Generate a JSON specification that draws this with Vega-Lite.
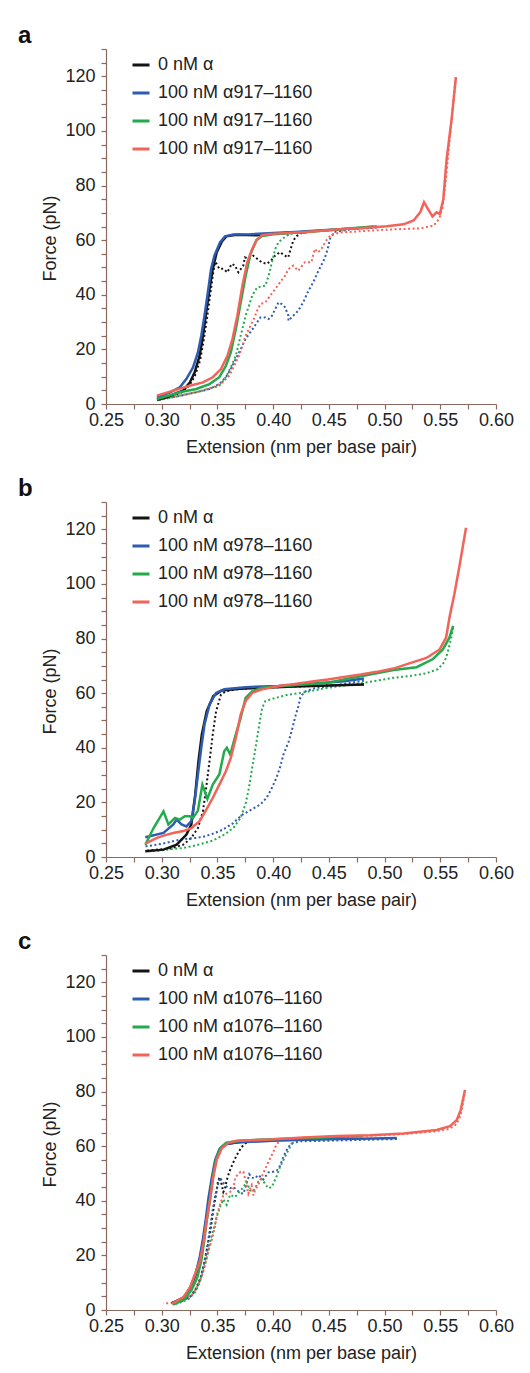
{
  "$schema": "https://vega.github.io/schema/vega-lite/v6.json",
  "padding": {"left": 17, "top": 24, "right": 5, "bottom": 5},
  "background": "white",
  "config": {
    "font": "Liberation Sans",
    "view": {"stroke": null},
    "axis": {"grid": false, "domainColor": "#8a6a60", "tickColor": "#8a6a60", "domainWidth": 1.2, "tickWidth": 1.2, "tickSize": 5, "labelFontSize": 18, "titleFontSize": 18, "titleFontWeight": "normal", "labelColor": "#222222", "titleColor": "#222222", "labelFont": "Liberation Sans", "titleFont": "Liberation Sans", "labelOverlap": false, "labelFlush": false},
    "title": {"fontSize": 24, "fontWeight": "bold", "anchor": "start", "color": "#111111", "baseline": "alphabetic", "offset": 5, "dx": -24, "dy": 13, "font": "Liberation Sans"},
    "legend": {"orient": "none", "legendX": 25, "legendY": 6, "title": null, "symbolType": "stroke", "symbolSize": 289, "symbolStrokeWidth": 3, "symbolDash": [1, 0], "labelFontSize": 18, "labelColor": "#222222", "labelOffset": 7, "rowPadding": 9, "padding": 0, "labelLimit": 400, "labelFont": "Liberation Sans"}
  },
  "resolve": {"scale": {"color": "independent"}},
  "spacing": 21,
  "datasets": {
    "a": [
      {"s":"k","t":"s","x":0.2957,"y":1.5},{"s":"k","t":"s","x":0.305,"y":2.5},{"s":"k","t":"s","x":0.313,"y":4},{"s":"k","t":"s","x":0.3193,"y":4.9},{"s":"k","t":"s","x":0.3252,"y":7.9},{"s":"k","t":"s","x":0.3296,"y":11.6},{"s":"k","t":"s","x":0.334,"y":17.7},{"s":"k","t":"s","x":0.337,"y":25},{"s":"k","t":"s","x":0.3399,"y":33.6},{"s":"k","t":"s","x":0.3429,"y":42.1},{"s":"k","t":"s","x":0.3458,"y":49.4},{"s":"k","t":"s","x":0.3493,"y":55.5},{"s":"k","t":"s","x":0.354,"y":59.5},{"s":"k","t":"s","x":0.358,"y":61.4},{"s":"k","t":"s","x":0.367,"y":62},{"s":"k","t":"s","x":0.385,"y":61.8},{"s":"k","t":"s","x":0.397,"y":62.3},{"s":"k","t":"s","x":0.41,"y":62.6},{"s":"k","t":"s","x":0.43,"y":63},
      {"s":"k","t":"r","x":0.43,"y":63},{"s":"k","t":"r","x":0.425,"y":62.5},{"s":"k","t":"r","x":0.421,"y":61.5},{"s":"k","t":"r","x":0.418,"y":59.8},{"s":"k","t":"r","x":0.4155,"y":56.5},{"s":"k","t":"r","x":0.4136,"y":53.7},{"s":"k","t":"r","x":0.4106,"y":54.3},{"s":"k","t":"r","x":0.4061,"y":55.6},{"s":"k","t":"r","x":0.4017,"y":54.3},{"s":"k","t":"r","x":0.398,"y":52.5},{"s":"k","t":"r","x":0.3942,"y":51.3},{"s":"k","t":"r","x":0.3897,"y":51.9},{"s":"k","t":"r","x":0.3822,"y":54.3},{"s":"k","t":"r","x":0.3777,"y":53.1},{"s":"k","t":"r","x":0.3747,"y":53.7},{"s":"k","t":"r","x":0.3732,"y":50.7},{"s":"k","t":"r","x":0.3688,"y":48.2},{"s":"k","t":"r","x":0.3658,"y":50.7},{"s":"k","t":"r","x":0.3628,"y":51.3},{"s":"k","t":"r","x":0.3589,"y":48.2},{"s":"k","t":"r","x":0.3553,"y":49.5},{"s":"k","t":"r","x":0.3517,"y":49.5},{"s":"k","t":"r","x":0.3493,"y":51.3},{"s":"k","t":"r","x":0.3478,"y":52},{"s":"k","t":"r","x":0.3458,"y":47},{"s":"k","t":"r","x":0.3435,"y":40},{"s":"k","t":"r","x":0.3405,"y":31},{"s":"k","t":"r","x":0.3375,"y":23},{"s":"k","t":"r","x":0.3345,"y":16},{"s":"k","t":"r","x":0.33,"y":10.5},{"s":"k","t":"r","x":0.3252,"y":7},{"s":"k","t":"r","x":0.3193,"y":4.5},{"s":"k","t":"r","x":0.31,"y":3},{"s":"k","t":"r","x":0.298,"y":1.5},
      {"s":"b","t":"s","x":0.2957,"y":2.4},{"s":"b","t":"s","x":0.3075,"y":4.3},{"s":"b","t":"s","x":0.3163,"y":6.1},{"s":"b","t":"s","x":0.3222,"y":9.2},{"s":"b","t":"s","x":0.3281,"y":13.4},{"s":"b","t":"s","x":0.3325,"y":18.9},{"s":"b","t":"s","x":0.3355,"y":25},{"s":"b","t":"s","x":0.3384,"y":32.3},{"s":"b","t":"s","x":0.3414,"y":40.9},{"s":"b","t":"s","x":0.3443,"y":49.4},{"s":"b","t":"s","x":0.3473,"y":54.3},{"s":"b","t":"s","x":0.3523,"y":59.2},{"s":"b","t":"s","x":0.3568,"y":61.4},{"s":"b","t":"s","x":0.3643,"y":62.1},{"s":"b","t":"s","x":0.38,"y":62.2},{"s":"b","t":"s","x":0.4,"y":62.6},{"s":"b","t":"s","x":0.42,"y":63},{"s":"b","t":"s","x":0.44,"y":63.5},{"s":"b","t":"s","x":0.46,"y":64},{"s":"b","t":"s","x":0.48,"y":64.5},{"s":"b","t":"s","x":0.493,"y":65},
      {"s":"b","t":"r","x":0.493,"y":64.6},{"s":"b","t":"r","x":0.47,"y":64},{"s":"b","t":"r","x":0.455,"y":63},{"s":"b","t":"r","x":0.451,"y":60.5},{"s":"b","t":"r","x":0.449,"y":56.8},{"s":"b","t":"r","x":0.446,"y":53.1},{"s":"b","t":"r","x":0.44,"y":48.2},{"s":"b","t":"r","x":0.436,"y":44.6},{"s":"b","t":"r","x":0.431,"y":40.9},{"s":"b","t":"r","x":0.427,"y":37.2},{"s":"b","t":"r","x":0.4225,"y":34.2},{"s":"b","t":"r","x":0.418,"y":32.3},{"s":"b","t":"r","x":0.4137,"y":30.5},{"s":"b","t":"r","x":0.4137,"y":32.3},{"s":"b","t":"r","x":0.4107,"y":35.4},{"s":"b","t":"r","x":0.4078,"y":36.6},{"s":"b","t":"r","x":0.4048,"y":37.2},{"s":"b","t":"r","x":0.4019,"y":34.8},{"s":"b","t":"r","x":0.3989,"y":32.3},{"s":"b","t":"r","x":0.396,"y":31.1},{"s":"b","t":"r","x":0.393,"y":31.7},{"s":"b","t":"r","x":0.3886,"y":31.7},{"s":"b","t":"r","x":0.3856,"y":29.9},{"s":"b","t":"r","x":0.3827,"y":28.1},{"s":"b","t":"r","x":0.3783,"y":25.6},{"s":"b","t":"r","x":0.3753,"y":23.8},{"s":"b","t":"r","x":0.3709,"y":20.1},{"s":"b","t":"r","x":0.3665,"y":16.5},{"s":"b","t":"r","x":0.362,"y":12.8},{"s":"b","t":"r","x":0.3576,"y":9.8},{"s":"b","t":"r","x":0.3517,"y":7.3},{"s":"b","t":"r","x":0.3429,"y":5.5},{"s":"b","t":"r","x":0.331,"y":4.3},{"s":"b","t":"r","x":0.3163,"y":3},{"s":"b","t":"r","x":0.2986,"y":1.8},
      {"s":"g","t":"s","x":0.2957,"y":1.8},{"s":"g","t":"s","x":0.3163,"y":4.3},{"s":"g","t":"s","x":0.331,"y":5.5},{"s":"g","t":"s","x":0.3429,"y":7.3},{"s":"g","t":"s","x":0.3517,"y":9.8},{"s":"g","t":"s","x":0.3576,"y":14},{"s":"g","t":"s","x":0.362,"y":18.9},{"s":"g","t":"s","x":0.3665,"y":27.5},{"s":"g","t":"s","x":0.3709,"y":37.2},{"s":"g","t":"s","x":0.3753,"y":47},{"s":"g","t":"s","x":0.3797,"y":54.9},{"s":"g","t":"s","x":0.385,"y":60},{"s":"g","t":"s","x":0.39,"y":61.5},{"s":"g","t":"s","x":0.4,"y":62.2},{"s":"g","t":"s","x":0.43,"y":63},{"s":"g","t":"s","x":0.46,"y":64},{"s":"g","t":"s","x":0.49,"y":65},
      {"s":"g","t":"r","x":0.49,"y":64.8},{"s":"g","t":"r","x":0.46,"y":63.8},{"s":"g","t":"r","x":0.43,"y":63},{"s":"g","t":"r","x":0.42,"y":62.6},{"s":"g","t":"r","x":0.415,"y":62.3},{"s":"g","t":"r","x":0.409,"y":60.7},{"s":"g","t":"r","x":0.4047,"y":59.2},{"s":"g","t":"r","x":0.4019,"y":56.8},{"s":"g","t":"r","x":0.3989,"y":51.9},{"s":"g","t":"r","x":0.396,"y":47},{"s":"g","t":"r","x":0.393,"y":43.3},{"s":"g","t":"r","x":0.3856,"y":42.7},{"s":"g","t":"r","x":0.3812,"y":39.7},{"s":"g","t":"r","x":0.3783,"y":36},{"s":"g","t":"r","x":0.3753,"y":32.3},{"s":"g","t":"r","x":0.3724,"y":27.5},{"s":"g","t":"r","x":0.3694,"y":22.6},{"s":"g","t":"r","x":0.3665,"y":17.7},{"s":"g","t":"r","x":0.362,"y":13.4},{"s":"g","t":"r","x":0.3576,"y":9.8},{"s":"g","t":"r","x":0.3517,"y":6.7},{"s":"g","t":"r","x":0.337,"y":4.9},{"s":"g","t":"r","x":0.3163,"y":3},{"s":"g","t":"r","x":0.2957,"y":1.3},
      {"s":"r","t":"s","x":0.2957,"y":3},{"s":"r","t":"s","x":0.3104,"y":4.9},{"s":"r","t":"s","x":0.3251,"y":6.7},{"s":"r","t":"s","x":0.337,"y":7.9},{"s":"r","t":"s","x":0.3458,"y":9.8},{"s":"r","t":"s","x":0.3532,"y":12.8},{"s":"r","t":"s","x":0.3591,"y":17.7},{"s":"r","t":"s","x":0.3635,"y":23.8},{"s":"r","t":"s","x":0.3679,"y":32.3},{"s":"r","t":"s","x":0.3724,"y":43.3},{"s":"r","t":"s","x":0.3768,"y":51.9},{"s":"r","t":"s","x":0.3812,"y":56.8},{"s":"r","t":"s","x":0.385,"y":60},{"s":"r","t":"s","x":0.3897,"y":61.7},{"s":"r","t":"s","x":0.397,"y":62.3},{"s":"r","t":"s","x":0.427,"y":62.9},{"s":"r","t":"s","x":0.457,"y":63.9},{"s":"r","t":"s","x":0.487,"y":64.6},{"s":"r","t":"s","x":0.502,"y":65.1},{"s":"r","t":"s","x":0.517,"y":65.8},{"s":"r","t":"s","x":0.526,"y":67.2},{"s":"r","t":"s","x":0.532,"y":70.2},{"s":"r","t":"s","x":0.5354,"y":73.9},{"s":"r","t":"s","x":0.539,"y":71.4},{"s":"r","t":"s","x":0.543,"y":68.7},{"s":"r","t":"s","x":0.5467,"y":70.2},{"s":"r","t":"s","x":0.5496,"y":69.6},{"s":"r","t":"s","x":0.5527,"y":75},{"s":"r","t":"s","x":0.5557,"y":89.7},{"s":"r","t":"s","x":0.5602,"y":104.4},{"s":"r","t":"s","x":0.564,"y":119.7},
      {"s":"r","t":"r","x":0.564,"y":119.7},{"s":"r","t":"r","x":0.5615,"y":110},{"s":"r","t":"r","x":0.558,"y":95},{"s":"r","t":"r","x":0.555,"y":82},{"s":"r","t":"r","x":0.552,"y":72},{"s":"r","t":"r","x":0.549,"y":67.8},{"s":"r","t":"r","x":0.544,"y":65.3},{"s":"r","t":"r","x":0.532,"y":64.3},{"s":"r","t":"r","x":0.517,"y":64.1},{"s":"r","t":"r","x":0.5,"y":63.8},{"s":"r","t":"r","x":0.48,"y":63.3},{"s":"r","t":"r","x":0.46,"y":62.8},{"s":"r","t":"r","x":0.452,"y":62},{"s":"r","t":"r","x":0.447,"y":59.5},{"s":"r","t":"r","x":0.443,"y":56.5},{"s":"r","t":"r","x":0.44,"y":55.5},{"s":"r","t":"r","x":0.4375,"y":56.8},{"s":"r","t":"r","x":0.4343,"y":51.9},{"s":"r","t":"r","x":0.4284,"y":51.9},{"s":"r","t":"r","x":0.4225,"y":48.8},{"s":"r","t":"r","x":0.418,"y":50.7},{"s":"r","t":"r","x":0.4137,"y":49.4},{"s":"r","t":"r","x":0.4107,"y":47},{"s":"r","t":"r","x":0.4063,"y":44.6},{"s":"r","t":"r","x":0.4019,"y":42.1},{"s":"r","t":"r","x":0.3974,"y":39.7},{"s":"r","t":"r","x":0.393,"y":37.2},{"s":"r","t":"r","x":0.3886,"y":36.6},{"s":"r","t":"r","x":0.3856,"y":34.2},{"s":"r","t":"r","x":0.3827,"y":31.1},{"s":"r","t":"r","x":0.3797,"y":28.7},{"s":"r","t":"r","x":0.3753,"y":25},{"s":"r","t":"r","x":0.3724,"y":21.3},{"s":"r","t":"r","x":0.3694,"y":17.7},{"s":"r","t":"r","x":0.365,"y":14},{"s":"r","t":"r","x":0.3606,"y":10.4},{"s":"r","t":"r","x":0.3547,"y":7.9},{"s":"r","t":"r","x":0.3458,"y":6.1},{"s":"r","t":"r","x":0.331,"y":4.3},{"s":"r","t":"r","x":0.2986,"y":1.8}
    ],
    "b": [
      {"s":"k","t":"s","x":0.2853,"y":2.1},{"s":"k","t":"s","x":0.3016,"y":2.7},{"s":"k","t":"s","x":0.3134,"y":4.5},{"s":"k","t":"s","x":0.3222,"y":8.2},{"s":"k","t":"s","x":0.3266,"y":11.9},{"s":"k","t":"s","x":0.3301,"y":22.9},{"s":"k","t":"s","x":0.333,"y":35.1},{"s":"k","t":"s","x":0.336,"y":44.9},{"s":"k","t":"s","x":0.3404,"y":53.4},{"s":"k","t":"s","x":0.3463,"y":58.9},{"s":"k","t":"s","x":0.3537,"y":61},{"s":"k","t":"s","x":0.37,"y":61.6},{"s":"k","t":"s","x":0.3901,"y":62},{"s":"k","t":"s","x":0.4196,"y":62.4},{"s":"k","t":"s","x":0.45,"y":62.8},{"s":"k","t":"s","x":0.4815,"y":63.2},
      {"s":"k","t":"r","x":0.4815,"y":63.2},{"s":"k","t":"r","x":0.45,"y":62.8},{"s":"k","t":"r","x":0.42,"y":62.4},{"s":"k","t":"r","x":0.39,"y":62},{"s":"k","t":"r","x":0.37,"y":61.6},{"s":"k","t":"r","x":0.3576,"y":60.7},{"s":"k","t":"r","x":0.3532,"y":59.5},{"s":"k","t":"r","x":0.3488,"y":53.4},{"s":"k","t":"r","x":0.3458,"y":44.9},{"s":"k","t":"r","x":0.3429,"y":35.1},{"s":"k","t":"r","x":0.3399,"y":25.3},{"s":"k","t":"r","x":0.337,"y":16.7},{"s":"k","t":"r","x":0.3325,"y":10.6},{"s":"k","t":"r","x":0.3266,"y":7},{"s":"k","t":"r","x":0.3193,"y":4.5},{"s":"k","t":"r","x":0.3075,"y":3.1},{"s":"k","t":"r","x":0.2853,"y":2.3},
      {"s":"b","t":"s","x":0.2853,"y":7.2},{"s":"b","t":"s","x":0.3016,"y":8.8},{"s":"b","t":"s","x":0.3104,"y":11.9},{"s":"b","t":"s","x":0.3134,"y":13.7},{"s":"b","t":"s","x":0.3178,"y":11.9},{"s":"b","t":"s","x":0.3222,"y":11.2},{"s":"b","t":"s","x":0.3266,"y":13.1},{"s":"b","t":"s","x":0.3296,"y":20.4},{"s":"b","t":"s","x":0.3325,"y":30.2},{"s":"b","t":"s","x":0.3355,"y":40},{"s":"b","t":"s","x":0.3384,"y":48.5},{"s":"b","t":"s","x":0.3429,"y":55.9},{"s":"b","t":"s","x":0.3488,"y":60.1},{"s":"b","t":"s","x":0.3561,"y":61.4},{"s":"b","t":"s","x":0.3753,"y":62.2},{"s":"b","t":"s","x":0.4048,"y":62.6},{"s":"b","t":"s","x":0.4343,"y":63.4},{"s":"b","t":"s","x":0.4638,"y":64.4},{"s":"b","t":"s","x":0.4815,"y":65.4},
      {"s":"b","t":"r","x":0.4815,"y":64.6},{"s":"b","t":"r","x":0.4638,"y":63.4},{"s":"b","t":"r","x":0.4372,"y":61.8},{"s":"b","t":"r","x":0.428,"y":60.5},{"s":"b","t":"r","x":0.4245,"y":58.5},{"s":"b","t":"r","x":0.4225,"y":55},{"s":"b","t":"r","x":0.4196,"y":51},{"s":"b","t":"r","x":0.4166,"y":46.1},{"s":"b","t":"r","x":0.4137,"y":42},{"s":"b","t":"r","x":0.4092,"y":37.5},{"s":"b","t":"r","x":0.4063,"y":33},{"s":"b","t":"r","x":0.403,"y":29},{"s":"b","t":"r","x":0.3985,"y":25},{"s":"b","t":"r","x":0.394,"y":21.6},{"s":"b","t":"r","x":0.3885,"y":19.2},{"s":"b","t":"r","x":0.3812,"y":17.5},{"s":"b","t":"r","x":0.3724,"y":15.5},{"s":"b","t":"r","x":0.3635,"y":12.2},{"s":"b","t":"r","x":0.3547,"y":10},{"s":"b","t":"r","x":0.3458,"y":8.5},{"s":"b","t":"r","x":0.338,"y":7.5},{"s":"b","t":"r","x":0.331,"y":7},{"s":"b","t":"r","x":0.3163,"y":6.4},{"s":"b","t":"r","x":0.3045,"y":5.2},{"s":"b","t":"r","x":0.2957,"y":4.5},{"s":"b","t":"r","x":0.2853,"y":3.9},
      {"s":"g","t":"s","x":0.2853,"y":4.5},{"s":"g","t":"s","x":0.2927,"y":10.6},{"s":"g","t":"s","x":0.3016,"y":16.7},{"s":"g","t":"s","x":0.306,"y":11.9},{"s":"g","t":"s","x":0.3119,"y":14.3},{"s":"g","t":"s","x":0.3163,"y":13.7},{"s":"g","t":"s","x":0.3207,"y":14.9},{"s":"g","t":"s","x":0.3252,"y":14.9},{"s":"g","t":"s","x":0.3281,"y":14.3},{"s":"g","t":"s","x":0.3325,"y":17},{"s":"g","t":"s","x":0.3365,"y":26.5},{"s":"g","t":"s","x":0.341,"y":21.3},{"s":"g","t":"s","x":0.3458,"y":26.5},{"s":"g","t":"s","x":0.3517,"y":30.2},{"s":"g","t":"s","x":0.3561,"y":38.7},{"s":"g","t":"s","x":0.3585,"y":40},{"s":"g","t":"s","x":0.3615,"y":37.5},{"s":"g","t":"s","x":0.3665,"y":44.9},{"s":"g","t":"s","x":0.3709,"y":51},{"s":"g","t":"s","x":0.3753,"y":58.3},{"s":"g","t":"s","x":0.3812,"y":60.7},{"s":"g","t":"s","x":0.3901,"y":62},{"s":"g","t":"s","x":0.42,"y":63},{"s":"g","t":"s","x":0.449,"y":63.8},{"s":"g","t":"s","x":0.4786,"y":66.2},{"s":"g","t":"s","x":0.508,"y":68.5},{"s":"g","t":"s","x":0.5287,"y":69.5},{"s":"g","t":"s","x":0.5435,"y":72.5},{"s":"g","t":"s","x":0.5523,"y":76},{"s":"g","t":"s","x":0.5582,"y":80.3},{"s":"g","t":"s","x":0.5615,"y":84.6},
      {"s":"g","t":"r","x":0.5615,"y":84},{"s":"g","t":"r","x":0.5597,"y":80},{"s":"g","t":"r","x":0.5567,"y":75},{"s":"g","t":"r","x":0.5538,"y":71.5},{"s":"g","t":"r","x":0.548,"y":68.8},{"s":"g","t":"r","x":0.5376,"y":67.3},{"s":"g","t":"r","x":0.5228,"y":66.3},{"s":"g","t":"r","x":0.508,"y":65.6},{"s":"g","t":"r","x":0.4933,"y":64.6},{"s":"g","t":"r","x":0.4786,"y":63.6},{"s":"g","t":"r","x":0.449,"y":62},{"s":"g","t":"r","x":0.428,"y":60.3},{"s":"g","t":"r","x":0.4121,"y":59.3},{"s":"g","t":"r","x":0.4,"y":58},{"s":"g","t":"r","x":0.393,"y":57.1},{"s":"g","t":"r","x":0.3901,"y":54.6},{"s":"g","t":"r","x":0.3871,"y":47.3},{"s":"g","t":"r","x":0.3842,"y":40},{"s":"g","t":"r","x":0.3812,"y":32.7},{"s":"g","t":"r","x":0.3783,"y":25.3},{"s":"g","t":"r","x":0.3753,"y":19.5},{"s":"g","t":"r","x":0.3709,"y":14.5},{"s":"g","t":"r","x":0.365,"y":11},{"s":"g","t":"r","x":0.3576,"y":8.5},{"s":"g","t":"r","x":0.3458,"y":6},{"s":"g","t":"r","x":0.331,"y":4.3},{"s":"g","t":"r","x":0.3193,"y":3.3},{"s":"g","t":"r","x":0.2957,"y":2.3},{"s":"g","t":"r","x":0.2853,"y":2},
      {"s":"r","t":"s","x":0.2853,"y":4.9},{"s":"r","t":"s","x":0.2957,"y":7},{"s":"r","t":"s","x":0.3045,"y":8.2},{"s":"r","t":"s","x":0.3104,"y":8.8},{"s":"r","t":"s","x":0.3193,"y":9.5},{"s":"r","t":"s","x":0.3266,"y":10.6},{"s":"r","t":"s","x":0.334,"y":13.1},{"s":"r","t":"s","x":0.3399,"y":17.3},{"s":"r","t":"s","x":0.3458,"y":21.6},{"s":"r","t":"s","x":0.3517,"y":26.5},{"s":"r","t":"s","x":0.3576,"y":31.4},{"s":"r","t":"s","x":0.362,"y":36.3},{"s":"r","t":"s","x":0.3665,"y":43.6},{"s":"r","t":"s","x":0.3709,"y":52.2},{"s":"r","t":"s","x":0.3753,"y":57.1},{"s":"r","t":"s","x":0.3812,"y":60.1},{"s":"r","t":"s","x":0.3901,"y":61.4},{"s":"r","t":"s","x":0.4048,"y":62.6},{"s":"r","t":"s","x":0.4196,"y":63.4},{"s":"r","t":"s","x":0.435,"y":64.3},{"s":"r","t":"s","x":0.449,"y":65},{"s":"r","t":"s","x":0.465,"y":66},{"s":"r","t":"s","x":0.4786,"y":66.8},{"s":"r","t":"s","x":0.493,"y":67.8},{"s":"r","t":"s","x":0.508,"y":69},{"s":"r","t":"s","x":0.5228,"y":71},{"s":"r","t":"s","x":0.5376,"y":72.9},{"s":"r","t":"s","x":0.5494,"y":76},{"s":"r","t":"s","x":0.5552,"y":80.3},{"s":"r","t":"s","x":0.5582,"y":87.6},{"s":"r","t":"s","x":0.5626,"y":96.2},{"s":"r","t":"s","x":0.5675,"y":107.2},{"s":"r","t":"s","x":0.5731,"y":120.6}
    ],
    "c": [
      {"s":"k","t":"s","x":0.309,"y":2.5},{"s":"k","t":"s","x":0.32,"y":4.5},{"s":"k","t":"s","x":0.326,"y":8.5},{"s":"k","t":"s","x":0.331,"y":13.5},{"s":"k","t":"s","x":0.3345,"y":19},{"s":"k","t":"s","x":0.3375,"y":26},{"s":"k","t":"s","x":0.34,"y":33},{"s":"k","t":"s","x":0.343,"y":41},{"s":"k","t":"s","x":0.3455,"y":48.5},{"s":"k","t":"s","x":0.3485,"y":55},{"s":"k","t":"s","x":0.3525,"y":59},{"s":"k","t":"s","x":0.358,"y":60.8},{"s":"k","t":"s","x":0.37,"y":61.5},{"s":"k","t":"s","x":0.38,"y":61.8},
      {"s":"k","t":"r","x":0.38,"y":61.8},{"s":"k","t":"r","x":0.375,"y":61},{"s":"k","t":"r","x":0.3717,"y":59.7},{"s":"k","t":"r","x":0.3673,"y":56.7},{"s":"k","t":"r","x":0.3637,"y":53.6},{"s":"k","t":"r","x":0.3607,"y":50.6},{"s":"k","t":"r","x":0.3583,"y":47.5},{"s":"k","t":"r","x":0.3568,"y":44.4},{"s":"k","t":"r","x":0.3553,"y":43.2},{"s":"k","t":"r","x":0.3538,"y":46},{"s":"k","t":"r","x":0.352,"y":48.7},{"s":"k","t":"r","x":0.3505,"y":47},{"s":"k","t":"r","x":0.349,"y":43},{"s":"k","t":"r","x":0.3465,"y":37},{"s":"k","t":"r","x":0.344,"y":30},{"s":"k","t":"r","x":0.341,"y":23},{"s":"k","t":"r","x":0.338,"y":17},{"s":"k","t":"r","x":0.335,"y":12},{"s":"k","t":"r","x":0.331,"y":8},{"s":"k","t":"r","x":0.326,"y":5},{"s":"k","t":"r","x":0.318,"y":3.3},{"s":"k","t":"r","x":0.309,"y":2.2},
      {"s":"b","t":"s","x":0.31,"y":2.5},{"s":"b","t":"s","x":0.32,"y":4.5},{"s":"b","t":"s","x":0.326,"y":8.5},{"s":"b","t":"s","x":0.3305,"y":13.5},{"s":"b","t":"s","x":0.334,"y":19},{"s":"b","t":"s","x":0.337,"y":26},{"s":"b","t":"s","x":0.3395,"y":33},{"s":"b","t":"s","x":0.342,"y":41},{"s":"b","t":"s","x":0.345,"y":48.5},{"s":"b","t":"s","x":0.348,"y":55},{"s":"b","t":"s","x":0.352,"y":59},{"s":"b","t":"s","x":0.358,"y":60.8},{"s":"b","t":"s","x":0.366,"y":61.3},{"s":"b","t":"s","x":0.38,"y":61.6},{"s":"b","t":"s","x":0.4,"y":62},{"s":"b","t":"s","x":0.43,"y":62.3},{"s":"b","t":"s","x":0.46,"y":62.6},{"s":"b","t":"s","x":0.49,"y":62.8},{"s":"b","t":"s","x":0.511,"y":63},
      {"s":"b","t":"r","x":0.511,"y":62.6},{"s":"b","t":"r","x":0.48,"y":62.3},{"s":"b","t":"r","x":0.45,"y":62},{"s":"b","t":"r","x":0.425,"y":61.8},{"s":"b","t":"r","x":0.418,"y":61.2},{"s":"b","t":"r","x":0.4136,"y":59.7},{"s":"b","t":"r","x":0.4092,"y":56.1},{"s":"b","t":"r","x":0.4062,"y":52.8},{"s":"b","t":"r","x":0.4032,"y":51},{"s":"b","t":"r","x":0.3985,"y":50.5},{"s":"b","t":"r","x":0.3957,"y":50.4},{"s":"b","t":"r","x":0.3912,"y":47.8},{"s":"b","t":"r","x":0.3867,"y":49.4},{"s":"b","t":"r","x":0.3835,"y":48.2},{"s":"b","t":"r","x":0.3807,"y":48.5},{"s":"b","t":"r","x":0.3786,"y":49.7},{"s":"b","t":"r","x":0.376,"y":46},{"s":"b","t":"r","x":0.3733,"y":42.6},{"s":"b","t":"r","x":0.3709,"y":42.8},{"s":"b","t":"r","x":0.3673,"y":44},{"s":"b","t":"r","x":0.3643,"y":45},{"s":"b","t":"r","x":0.3613,"y":44.6},{"s":"b","t":"r","x":0.3583,"y":45.2},{"s":"b","t":"r","x":0.3553,"y":46.5},{"s":"b","t":"r","x":0.3523,"y":48.5},{"s":"b","t":"r","x":0.3505,"y":46},{"s":"b","t":"r","x":0.348,"y":42},{"s":"b","t":"r","x":0.3455,"y":36},{"s":"b","t":"r","x":0.343,"y":29},{"s":"b","t":"r","x":0.3405,"y":22},{"s":"b","t":"r","x":0.3375,"y":16},{"s":"b","t":"r","x":0.3345,"y":11},{"s":"b","t":"r","x":0.33,"y":7},{"s":"b","t":"r","x":0.325,"y":4.8},{"s":"b","t":"r","x":0.318,"y":3.3},{"s":"b","t":"r","x":0.31,"y":2.4},
      {"s":"g","t":"s","x":0.31,"y":2},{"s":"g","t":"s","x":0.32,"y":3.8},{"s":"g","t":"s","x":0.327,"y":7.5},{"s":"g","t":"s","x":0.332,"y":12},{"s":"g","t":"s","x":0.3355,"y":18},{"s":"g","t":"s","x":0.338,"y":25},{"s":"g","t":"s","x":0.3405,"y":33},{"s":"g","t":"s","x":0.3435,"y":41},{"s":"g","t":"s","x":0.346,"y":49},{"s":"g","t":"s","x":0.349,"y":55.5},{"s":"g","t":"s","x":0.353,"y":59.5},{"s":"g","t":"s","x":0.358,"y":61.3},{"s":"g","t":"s","x":0.37,"y":62},{"s":"g","t":"s","x":0.4,"y":62.5},{"s":"g","t":"s","x":0.43,"y":63},{"s":"g","t":"s","x":0.46,"y":63.4},{"s":"g","t":"s","x":0.48,"y":63.7},
      {"s":"g","t":"r","x":0.48,"y":63.6},{"s":"g","t":"r","x":0.45,"y":63.2},{"s":"g","t":"r","x":0.425,"y":62.7},{"s":"g","t":"r","x":0.4181,"y":62.2},{"s":"g","t":"r","x":0.4151,"y":59.7},{"s":"g","t":"r","x":0.4106,"y":56.1},{"s":"g","t":"r","x":0.4062,"y":52.4},{"s":"g","t":"r","x":0.4032,"y":49},{"s":"g","t":"r","x":0.3987,"y":45},{"s":"g","t":"r","x":0.3957,"y":44.6},{"s":"g","t":"r","x":0.3942,"y":45.4},{"s":"g","t":"r","x":0.3897,"y":48},{"s":"g","t":"r","x":0.3867,"y":47},{"s":"g","t":"r","x":0.3852,"y":45.7},{"s":"g","t":"r","x":0.3822,"y":43.5},{"s":"g","t":"r","x":0.3792,"y":43.8},{"s":"g","t":"r","x":0.3762,"y":46.9},{"s":"g","t":"r","x":0.3732,"y":45},{"s":"g","t":"r","x":0.3703,"y":43.5},{"s":"g","t":"r","x":0.3658,"y":41.4},{"s":"g","t":"r","x":0.3613,"y":42.2},{"s":"g","t":"r","x":0.3583,"y":38.5},{"s":"g","t":"r","x":0.3553,"y":40.5},{"s":"g","t":"r","x":0.3523,"y":37.7},{"s":"g","t":"r","x":0.3493,"y":34},{"s":"g","t":"r","x":0.3478,"y":31.5},{"s":"g","t":"r","x":0.3457,"y":28.5},{"s":"g","t":"r","x":0.343,"y":24},{"s":"g","t":"r","x":0.3405,"y":19},{"s":"g","t":"r","x":0.3375,"y":14.5},{"s":"g","t":"r","x":0.334,"y":10},{"s":"g","t":"r","x":0.33,"y":6.5},{"s":"g","t":"r","x":0.324,"y":4},{"s":"g","t":"r","x":0.317,"y":2.8},{"s":"g","t":"r","x":0.311,"y":2},
      {"s":"r","t":"s","x":0.3089,"y":2.2},{"s":"r","t":"s","x":0.3194,"y":4.7},{"s":"r","t":"s","x":0.3254,"y":8.3},{"s":"r","t":"s","x":0.3299,"y":13.2},{"s":"r","t":"s","x":0.3344,"y":18.1},{"s":"r","t":"s","x":0.3373,"y":24.2},{"s":"r","t":"s","x":0.3403,"y":32.8},{"s":"r","t":"s","x":0.3433,"y":40.2},{"s":"r","t":"s","x":0.3463,"y":48.7},{"s":"r","t":"s","x":0.3493,"y":54.9},{"s":"r","t":"s","x":0.3538,"y":59.1},{"s":"r","t":"s","x":0.3598,"y":61.2},{"s":"r","t":"s","x":0.3673,"y":62},{"s":"r","t":"s","x":0.3972,"y":62.4},{"s":"r","t":"s","x":0.4271,"y":63.2},{"s":"r","t":"s","x":0.457,"y":63.7},{"s":"r","t":"s","x":0.4869,"y":64},{"s":"r","t":"s","x":0.5168,"y":64.6},{"s":"r","t":"s","x":0.5467,"y":65.9},{"s":"r","t":"s","x":0.5587,"y":67.3},{"s":"r","t":"s","x":0.5647,"y":69.5},{"s":"r","t":"s","x":0.5683,"y":73.2},{"s":"r","t":"s","x":0.5722,"y":80.6},
      {"s":"r","t":"r","x":0.5722,"y":80.6},{"s":"r","t":"r","x":0.5705,"y":76},{"s":"r","t":"r","x":0.568,"y":71},{"s":"r","t":"r","x":0.5645,"y":68},{"s":"r","t":"r","x":0.558,"y":66.3},{"s":"r","t":"r","x":0.545,"y":65.4},{"s":"r","t":"r","x":0.52,"y":64.5},{"s":"r","t":"r","x":0.5,"y":64},{"s":"r","t":"r","x":0.47,"y":63.6},{"s":"r","t":"r","x":0.44,"y":63.1},{"s":"r","t":"r","x":0.42,"y":62.6},{"s":"r","t":"r","x":0.408,"y":62.2},{"s":"r","t":"r","x":0.4032,"y":60.9},{"s":"r","t":"r","x":0.4002,"y":57.9},{"s":"r","t":"r","x":0.3957,"y":54.2},{"s":"r","t":"r","x":0.3927,"y":51.5},{"s":"r","t":"r","x":0.3897,"y":48.7},{"s":"r","t":"r","x":0.3867,"y":46},{"s":"r","t":"r","x":0.3837,"y":43.8},{"s":"r","t":"r","x":0.3822,"y":42},{"s":"r","t":"r","x":0.3807,"y":45.7},{"s":"r","t":"r","x":0.3792,"y":44.4},{"s":"r","t":"r","x":0.3777,"y":42.6},{"s":"r","t":"r","x":0.3755,"y":47},{"s":"r","t":"r","x":0.3733,"y":50.6},{"s":"r","t":"r","x":0.3709,"y":50.6},{"s":"r","t":"r","x":0.3688,"y":50},{"s":"r","t":"r","x":0.3658,"y":48.2},{"s":"r","t":"r","x":0.3643,"y":44.5},{"s":"r","t":"r","x":0.3613,"y":43.2},{"s":"r","t":"r","x":0.3583,"y":42.6},{"s":"r","t":"r","x":0.3553,"y":42},{"s":"r","t":"r","x":0.3523,"y":38.5},{"s":"r","t":"r","x":0.3493,"y":34.5},{"s":"r","t":"r","x":0.3478,"y":30.4},{"s":"r","t":"r","x":0.3448,"y":25.5},{"s":"r","t":"r","x":0.342,"y":22},{"s":"r","t":"r","x":0.339,"y":17},{"s":"r","t":"r","x":0.336,"y":12.5},{"s":"r","t":"r","x":0.332,"y":8.5},{"s":"r","t":"r","x":0.327,"y":5.5},{"s":"r","t":"r","x":0.32,"y":3.8},{"s":"r","t":"r","x":0.31,"y":2.6},{"s":"r","t":"r","x":0.3015,"y":2.4}
    ]
  },
  "vconcat": [
    {
      "title": {"text": "a"},
      "width": 390, "height": 355,
      "data": {"name": "a"},
      "encoding": {
        "x": {"field": "x", "type": "quantitative", "scale": {"domain": [0.25, 0.6], "nice": false, "zero": false}, "axis": {"title": "Extension (nm per base pair)", "values": [0.25,0.275,0.3,0.325,0.35,0.375,0.4,0.425,0.45,0.475,0.5,0.525,0.55,0.575,0.6], "labelExpr": "round(datum.value*1000) % 50 == 0 ? format(datum.value, '.2f') : ''", "labelPadding": 2, "titlePadding": 9}},
        "y": {"field": "y", "type": "quantitative", "scale": {"domain": [0, 130], "nice": false}, "axis": {"title": "Force (pN)", "values": [0,5,10,15,20,25,30,35,40,45,50,55,60,65,70,75,80,85,90,95,100,105,110,115,120,125,130], "labelExpr": "datum.value % 20 == 0 ? datum.label : ''", "labelPadding": 6, "titlePadding": 5, "titleY": 189}},
        "color": {"field": "s", "type": "nominal", "scale": {"domain": ["k","b","g","r"], "range": ["#141414","#2d5cb0","#22aa4c","#f2635a"]}, "legend": {"labelExpr": "datum.value == 'k' ? '0 nM α' : '100 nM α917–1160'"}},
        "order": {"value": null}
      },
      "layer": [
        {"transform": [{"filter": "datum.t == 'r'"}], "mark": {"type": "line", "strokeWidth": 2, "strokeDash": [2, 2.5]}},
        {"transform": [{"filter": "datum.t == 's'"}], "mark": {"type": "line", "strokeWidth": 2.5}}
      ]
    },
    {
      "title": {"text": "b"},
      "width": 390, "height": 355,
      "data": {"name": "b"},
      "encoding": {
        "x": {"field": "x", "type": "quantitative", "scale": {"domain": [0.25, 0.6], "nice": false, "zero": false}, "axis": {"title": "Extension (nm per base pair)", "values": [0.25,0.275,0.3,0.325,0.35,0.375,0.4,0.425,0.45,0.475,0.5,0.525,0.55,0.575,0.6], "labelExpr": "round(datum.value*1000) % 50 == 0 ? format(datum.value, '.2f') : ''", "labelPadding": 2, "titlePadding": 9}},
        "y": {"field": "y", "type": "quantitative", "scale": {"domain": [0, 130], "nice": false}, "axis": {"title": "Force (pN)", "values": [0,5,10,15,20,25,30,35,40,45,50,55,60,65,70,75,80,85,90,95,100,105,110,115,120,125,130], "labelExpr": "datum.value % 20 == 0 ? datum.label : ''", "labelPadding": 6, "titlePadding": 5, "titleY": 189}},
        "color": {"field": "s", "type": "nominal", "scale": {"domain": ["k","b","g","r"], "range": ["#141414","#2d5cb0","#22aa4c","#f2635a"]}, "legend": {"labelExpr": "datum.value == 'k' ? '0 nM α' : '100 nM α978–1160'"}},
        "order": {"value": null}
      },
      "layer": [
        {"transform": [{"filter": "datum.t == 'r'"}], "mark": {"type": "line", "strokeWidth": 2, "strokeDash": [2, 2.5]}},
        {"transform": [{"filter": "datum.t == 's'"}], "mark": {"type": "line", "strokeWidth": 2.5}}
      ]
    },
    {
      "title": {"text": "c"},
      "width": 390, "height": 355,
      "data": {"name": "c"},
      "encoding": {
        "x": {"field": "x", "type": "quantitative", "scale": {"domain": [0.25, 0.6], "nice": false, "zero": false}, "axis": {"title": "Extension (nm per base pair)", "values": [0.25,0.275,0.3,0.325,0.35,0.375,0.4,0.425,0.45,0.475,0.5,0.525,0.55,0.575,0.6], "labelExpr": "round(datum.value*1000) % 50 == 0 ? format(datum.value, '.2f') : ''", "labelPadding": 2, "titlePadding": 9}},
        "y": {"field": "y", "type": "quantitative", "scale": {"domain": [0, 130], "nice": false}, "axis": {"title": "Force (pN)", "values": [0,5,10,15,20,25,30,35,40,45,50,55,60,65,70,75,80,85,90,95,100,105,110,115,120,125,130], "labelExpr": "datum.value % 20 == 0 ? datum.label : ''", "labelPadding": 6, "titlePadding": 5, "titleY": 189}},
        "color": {"field": "s", "type": "nominal", "scale": {"domain": ["k","b","g","r"], "range": ["#141414","#2d5cb0","#22aa4c","#f2635a"]}, "legend": {"labelExpr": "datum.value == 'k' ? '0 nM α' : '100 nM α1076–1160'"}},
        "order": {"value": null}
      },
      "layer": [
        {"transform": [{"filter": "datum.t == 'r'"}], "mark": {"type": "line", "strokeWidth": 2, "strokeDash": [2, 2.5]}},
        {"transform": [{"filter": "datum.t == 's'"}], "mark": {"type": "line", "strokeWidth": 2.5}}
      ]
    }
  ]
}
